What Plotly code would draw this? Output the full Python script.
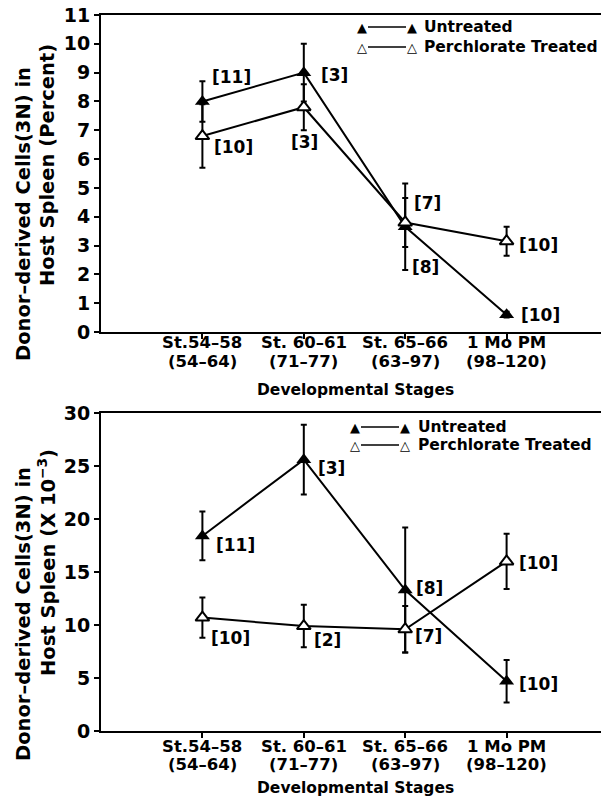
import plotly.graph_objects as go

# ---------------- data ----------------
stages_line1 = ["St.54–58", "St. 60–61", "St. 65–66", "1 Mo PM"]
stages_line2 = ["(54–64)", "(71–77)", "(63–97)", "(98–120)"]
xpos = [1, 2, 3, 4]

pct_untreated = [8.0, 9.0, 3.65, 0.6]
pct_untreated_err = [0.7, 1.0, 1.5, 0.1]
pct_untreated_n = [11, 3, 8, 10]
pct_perch = [6.8, 7.8, 3.8, 3.15]
pct_perch_err = [1.1, 0.8, 0.85, 0.5]
pct_perch_n = [10, 3, 7, 10]

cnt_untreated = [18.4, 25.6, 13.3, 4.7]
cnt_untreated_err = [2.3, 3.3, 5.9, 2.0]
cnt_untreated_n = [11, 3, 8, 10]
cnt_perch = [10.7, 9.9, 9.6, 16.0]
cnt_perch_err = [1.9, 2.0, 2.2, 2.6]
cnt_perch_n = [10, 2, 7, 10]

series_names = ["Untreated", "Perchlorate Treated"]

# ---------------- styling ----------------
OFF = 8                      # page body margin
W, H = 609 - OFF, 801 - OFF
FONT = "DejaVu Sans"


def px(x):
    return (x - OFF) / W


def py(y):
    return 1 - (y - OFF) / H


def bold(size):
    return dict(family=FONT, size=size, color="black", weight="bold")


panels = [
    dict(xa="x", ya="y", dom=(py(332), py(15)), rng=[0, 11], dtick=1,
         data=[(pct_untreated, pct_untreated_err, pct_untreated_n, True),
               (pct_perch, pct_perch_err, pct_perch_n, False)],
         offs=[[(29, 24), (31, -2), (20, -40), (34, 0)],
               [(31, -11), (1, -35), (22, 19), (32, -4)]],
         ytitle=["Donor–derived Cells(3N) in", "Host Spleen (Percent)"],
         ytc=(214, 165), xlab_y=(343, 361), xtitle_y=390,
         legend=dict(y=(27, 47), tri=(362, 412), line=(368, 406), text=422)),
    dict(xa="x2", ya="y2", dom=(py(731), py(413)), rng=[0, 30], dtick=5,
         data=[(cnt_untreated, cnt_untreated_err, cnt_untreated_n, True),
               (cnt_perch, cnt_perch_err, cnt_perch_n, False)],
         offs=[[(33, -9), (28, -8), (24, 2), (32, -3)],
               [(28, -20), (24, -14), (23, -7), (32, -2)]],
         ytitle=["Donor–derived Cells(3N) in", "Host Spleen (X 10<sup>−3</sup>)"],
         ytc=(614, 563), xlab_y=(746, 764), xtitle_y=788,
         legend=dict(y=(427, 445), tri=(355, 405), line=(361, 399), text=416)),
]

fig = go.Figure()
annotations = []
shapes = []
layout = dict(width=W, height=H,
              margin=dict(l=0, r=0, t=0, b=0, pad=0, autoexpand=False),
              template="none",
              paper_bgcolor="white", plot_bgcolor="white", showlegend=False,
              font=bold(15))

for i, p in enumerate(panels):
    for (vals, errs, ns, filled), name, offs in zip(p["data"], series_names, p["offs"]):
        fig.add_trace(go.Scatter(
            x=xpos, y=vals, name=name, mode="lines+markers",
            xaxis=p["xa"], yaxis=p["ya"],
            line=dict(color="black", width=2),
            marker=dict(symbol="triangle-up", size=13 if filled else 12,
                        color="black" if filled else "white",
                        line=dict(color="black", width=0 if filled else 2)),
            error_y=dict(type="data", array=errs, visible=True,
                         color="black", thickness=2, width=3),
        ))
        for xv, yv, n, (dx, dy) in zip(xpos, vals, ns, offs):
            annotations.append(dict(
                x=xv, y=yv, xref=p["xa"], yref=p["ya"], text=f"[{n}]",
                showarrow=False, xshift=dx, yshift=dy,
                font=dict(family=FONT, size=17, color="black"),
            ))
    axkey = "xaxis" if i == 0 else "xaxis2"
    aykey = "yaxis" if i == 0 else "yaxis2"
    layout[axkey] = dict(
        domain=[px(101), px(608)], range=[0, 5], anchor=p["ya"], automargin=False,
        tickvals=xpos, showticklabels=False,
        showline=True, linewidth=2, linecolor="black", mirror=True,
        ticks="outside", ticklen=5, tickwidth=2, tickcolor="black",
        showgrid=False, zeroline=False,
    )
    layout[aykey] = dict(
        domain=list(p["dom"]), range=p["rng"], dtick=p["dtick"], anchor=p["xa"],
        automargin=False, ticklabeloverflow="allow",
        showline=True, linewidth=2, linecolor="black", mirror=True,
        ticks="outside", ticklen=5, tickwidth=2, tickcolor="black",
        showgrid=False, zeroline=False,
        tickfont=bold(19),
    )
    # x tick labels (two lines)
    for xv, t1, t2 in zip(xpos, stages_line1, stages_line2):
        for t, yy in zip((t1, t2), p["xlab_y"]):
            annotations.append(dict(
                x=xv, y=py(yy), xref=p["xa"], yref="paper", text=t,
                showarrow=False, yanchor="middle", font=bold(16.5),
            ))
    # x title
    annotations.append(dict(
        x=px(355), y=py(p["xtitle_y"]), xref="paper", yref="paper",
        text="Developmental Stages", showarrow=False, yanchor="middle",
        font=bold(15.5),
    ))
    # y title lines
    for t, xc, yc in zip(p["ytitle"], (23, 47), p["ytc"]):
        annotations.append(dict(
            x=px(xc), y=py(yc), xref="paper", yref="paper", text=t,
            showarrow=False, textangle=-90, xanchor="center", yanchor="middle",
            font=bold(19.5),
        ))
    # legend
    lg = p["legend"]
    for (vals, errs, ns, filled), name, ly in zip(p["data"], series_names, lg["y"]):
        sym = "▲" if filled else "△"
        for tx in lg["tri"]:
            annotations.append(dict(
                x=px(tx), y=py(ly), xref="paper", yref="paper", text=sym,
                showarrow=False, xanchor="center", yanchor="middle",
                font=dict(family=FONT, size=13, color="black"),
            ))
        shapes.append(dict(
            type="line", xref="paper", yref="paper",
            x0=px(lg["line"][0]), x1=px(lg["line"][1]),
            y0=py(ly), y1=py(ly), line=dict(color="black", width=1.5),
        ))
        annotations.append(dict(
            x=px(lg["text"]), y=py(ly), xref="paper", yref="paper",
            text=name, showarrow=False, xanchor="left", yanchor="middle",
            font=bold(15.5),
        ))

layout["annotations"] = annotations
layout["shapes"] = shapes
fig.update_layout(**layout)
fig.write_html("out.html")
